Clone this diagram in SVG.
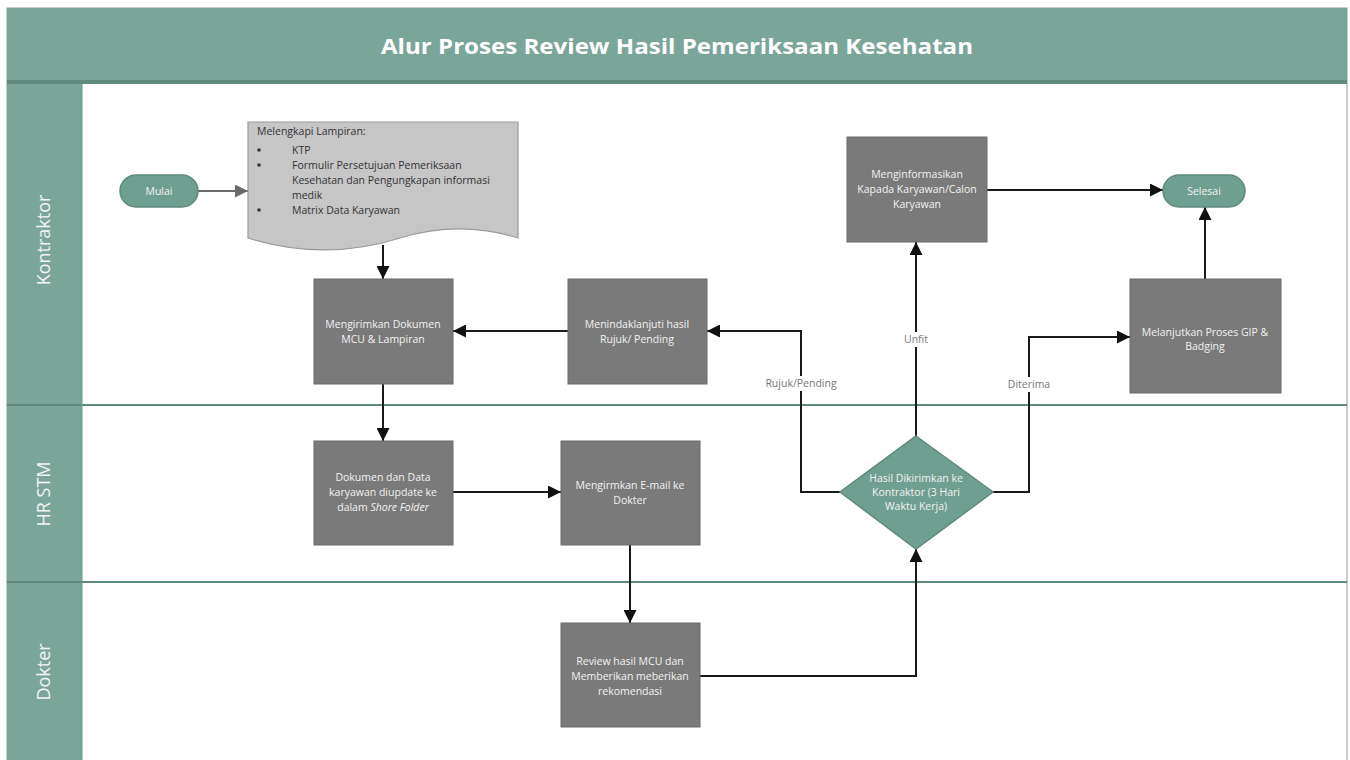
<svg xmlns="http://www.w3.org/2000/svg" width="1350" height="760" viewBox="0 0 1350 760">
<style>
.lane{fill:#7aa69a}
.box{fill:#7a7a7a;stroke:#6b6b6b;stroke-width:1}
.term{fill:#6f9f90;stroke:#5e8a7c;stroke-width:1.5}
.bt{font-family:"Open Sans","Liberation Sans",sans-serif;font-size:10.5px;fill:#f2f2f2;text-anchor:middle}
.lbl{font-family:"Open Sans","Liberation Sans",sans-serif;font-size:10.5px;fill:#777;text-anchor:middle}
.dt{font-family:"Open Sans","Liberation Sans",sans-serif;font-size:10.5px;fill:#333}
.lt{font-family:"Open Sans","Liberation Sans",sans-serif;font-size:18px;fill:#f4f4f4;text-anchor:middle}
.conn{fill:none;stroke:#1a1a1a;stroke-width:2}
</style>
<defs>
<marker id="ah" viewBox="0 0 10 10" refX="10" refY="5" markerWidth="6.5" markerHeight="6.5" orient="auto" markerUnits="strokeWidth"><path d="M0,0 L10,5 L0,10 Z" fill="#111"/></marker>
<marker id="ahg" viewBox="0 0 10 10" refX="10" refY="5" markerWidth="6.5" markerHeight="6.5" orient="auto" markerUnits="strokeWidth"><path d="M0,0 L10,5 L0,10 Z" fill="#6a6a6a"/></marker>
</defs>
<rect width="1350" height="760" fill="#ffffff"/>
<g id="frame">
<rect x="7" y="8" width="1340" height="760" fill="#ffffff" stroke="#8a9e98" stroke-width="1"/>
<rect x="7" y="8" width="1340" height="75" class="lane"/>
<rect x="7" y="80" width="1340" height="4" fill="#5f8b7e"/>
<text x="677" y="54" font-family="'Open Sans','Liberation Sans',sans-serif" font-size="21" font-weight="bold" fill="#ffffff" text-anchor="middle" textLength="592" lengthAdjust="spacingAndGlyphs">Alur Proses Review Hasil Pemeriksaan Kesehatan</text>
<rect x="7" y="84" width="75" height="676" class="lane"/>
<line x1="7" y1="405" x2="1347" y2="405" stroke="#5f8b7e" stroke-width="2"/>
<line x1="7" y1="582" x2="1347" y2="582" stroke="#5f8b7e" stroke-width="2"/>
<line x1="82" y1="84" x2="82" y2="760" stroke="#6f978b" stroke-width="1"/>
<text class="lt" transform="translate(50,240) rotate(-90)">Kontraktor</text>
<text class="lt" transform="translate(50,494) rotate(-90)">HR STM</text>
<text class="lt" transform="translate(50,672) rotate(-90)">Dokter</text>
</g>
<g id="connectors">
<line x1="198" y1="191" x2="248" y2="191" stroke="#6a6a6a" stroke-width="2" marker-end="url(#ahg)"/>
<line x1="383" y1="245" x2="383" y2="279" class="conn" marker-end="url(#ah)"/>
<line x1="568" y1="331" x2="453" y2="331" class="conn" marker-end="url(#ah)"/>
<line x1="383" y1="384" x2="383" y2="441" class="conn" marker-end="url(#ah)"/>
<line x1="453" y1="492" x2="561" y2="492" class="conn" marker-end="url(#ah)"/>
<line x1="630" y1="545" x2="630" y2="623" class="conn" marker-end="url(#ah)"/>
<polyline points="700,676 916,676 916,549" class="conn" marker-end="url(#ah)"/>
<polyline points="840,492 801,492 801,331 707,331" class="conn" marker-end="url(#ah)"/>
<line x1="916" y1="436" x2="916" y2="242" class="conn" marker-end="url(#ah)"/>
<polyline points="993,492 1029,492 1029,337 1130,337" class="conn" marker-end="url(#ah)"/>
<line x1="987" y1="190" x2="1163" y2="190" class="conn" marker-end="url(#ah)"/>
<line x1="1205" y1="279" x2="1205" y2="207" class="conn" marker-end="url(#ah)"/>
<rect x="764" y="376" width="74" height="15" fill="#ffffff"/>
<text class="lbl" x="801" y="387">Rujuk/Pending</text>
<rect x="901" y="332" width="30" height="15" fill="#ffffff"/>
<text class="lbl" x="916" y="343">Unfit</text>
<rect x="1006" y="377" width="46" height="15" fill="#ffffff"/>
<text class="lbl" x="1029" y="388">Diterima</text>
</g>
<g id="mulai">
<rect x="120" y="175" width="78" height="32" rx="16" class="term"/>
<text class="bt" x="159" y="195">Mulai</text>
</g>
<g id="lampiran">
<path d="M248,122 H518 V238 C480,226 440,226 400,238 C350,254 300,254 248,238 Z" fill="#c6c6c6" stroke="#9a9a9a" stroke-width="1.2"/>
<text class="dt" x="257" y="135">Melengkapi Lampiran:</text>
<circle cx="259" cy="150" r="1.8" fill="#333"/>
<text class="dt" x="292" y="154">KTP</text>
<circle cx="259" cy="165" r="1.8" fill="#333"/>
<text class="dt" x="292" y="169">Formulir Persetujuan Pemeriksaan</text>
<text class="dt" x="292" y="184">Kesehatan dan Pengungkapan informasi</text>
<text class="dt" x="292" y="199">medik</text>
<circle cx="259" cy="210" r="1.8" fill="#333"/>
<text class="dt" x="292" y="214">Matrix Data Karyawan</text>
</g>
<g id="kirim-dokumen">
<rect x="314" y="279" width="139" height="105" class="box"/>
<text class="bt" x="383" y="328">Mengirimkan Dokumen</text>
<text class="bt" x="383" y="343">MCU &amp; Lampiran</text>
</g>
<g id="tindaklanjut">
<rect x="568" y="279" width="139" height="105" class="box"/>
<text class="bt" x="637" y="328">Menindaklanjuti hasil</text>
<text class="bt" x="637" y="343">Rujuk/ Pending</text>
</g>
<g id="informasi">
<rect x="847" y="137" width="140" height="105" class="box"/>
<text class="bt" x="917" y="178">Menginformasikan</text>
<text class="bt" x="917" y="193">Kapada Karyawan/Calon</text>
<text class="bt" x="917" y="208">Karyawan</text>
</g>
<g id="selesai">
<rect x="1163" y="175" width="82" height="32" rx="16" class="term"/>
<text class="bt" x="1204" y="195">Selesai</text>
</g>
<g id="gip">
<rect x="1130" y="279" width="151" height="114" class="box"/>
<text class="bt" x="1205" y="336">Melanjutkan Proses GIP &amp;</text>
<text class="bt" x="1205" y="350">Badging</text>
</g>
<g id="update">
<rect x="314" y="441" width="139" height="104" class="box"/>
<text class="bt" x="383" y="481">Dokumen dan Data</text>
<text class="bt" x="383" y="496">karyawan diupdate ke</text>
<text class="bt" x="383" y="511">dalam <tspan font-style="italic">Shore Folder</tspan></text>
</g>
<g id="email">
<rect x="561" y="441" width="139" height="104" class="box"/>
<text class="bt" x="630" y="489">Mengirmkan E-mail ke</text>
<text class="bt" x="630" y="504">Dokter</text>
</g>
<g id="review">
<rect x="561" y="623" width="139" height="104" class="box"/>
<text class="bt" x="630" y="665">Review hasil MCU dan</text>
<text class="bt" x="630" y="680">Memberikan meberikan</text>
<text class="bt" x="630" y="695">rekomendasi</text>
</g>
<g id="hasil">
<polygon points="916,436 993,492 916,549 840,492" class="term"/>
<text class="bt" x="916" y="482">Hasil Dikirimkan ke</text>
<text class="bt" x="916" y="496">Kontraktor (3 Hari</text>
<text class="bt" x="916" y="510">Waktu Kerja)</text>
</g>
</svg>
